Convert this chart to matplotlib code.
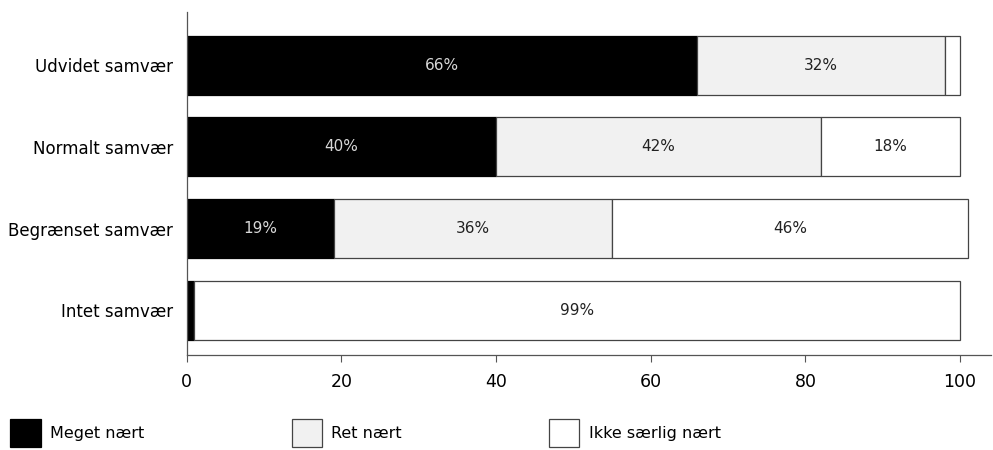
import numpy as np
import matplotlib.pyplot as plt

plt.rcParams['font.family'] = ['DejaVu Sans']

categories = ['Intet samvær', 'Begrænset samvær', 'Normalt samvær', 'Udvidet samvær']
meget_naert = [1, 19, 40, 66]
ret_naert = [0, 36, 42, 32]
ikke_naert = [99, 46, 18, 2]
series_names = ['Meget nært', 'Ret nært', 'Ikke særlig nært']

fig = plt.figure(figsize=(9.93, 4.5), dpi=100)
ax = fig.add_axes([0.188, 0.211, 0.81, 0.762])

y = np.arange(len(categories))
colors = ['#000000', '#f1f1f1', '#ffffff']
text_colors = ['#d8d8d8', '#222222', '#222222']
left = np.zeros(len(categories))
handles = []
for vals, name, col, tcol in zip([meget_naert, ret_naert, ikke_naert], series_names, colors, text_colors):
    vals = np.array(vals, dtype=float)
    bars = ax.barh(y, vals, left=left, height=0.72, color=col,
                   edgecolor='#444444' if col != '#000000' else '#000000',
                   linewidth=0.9, label=name)
    handles.append(bars)
    for yi, l, v in zip(y, left, vals):
        if v >= 5:
            ax.text(l + v / 2, yi, f'{int(v)}%', ha='center', va='center',
                    fontsize=11, color=tcol)
    left += vals

ax.set_yticks(y)
ax.set_yticklabels(categories, fontsize=12)
ax.set_ylim(-0.55, 3.65)
ax.set_xlim(0, 104)
ax.set_xticks([0, 20, 40, 60, 80, 100])
ax.tick_params(axis='x', labelsize=12.5, length=5, color='#555555', pad=8)
ax.tick_params(axis='y', length=0, pad=10)
for s in ['top', 'right']:
    ax.spines[s].set_visible(False)
for s in ['left', 'bottom']:
    ax.spines[s].set_color('#555555')
    ax.spines[s].set_linewidth(0.9)

fig.legend(handles, series_names, loc='lower left', bbox_to_anchor=(-0.004, -0.025),
           ncol=3, frameon=False, fontsize=11.5, handlelength=1.9, handleheight=2.3,
           handletextpad=0.6, columnspacing=9.2)

fig.savefig('out.png', dpi=100)
